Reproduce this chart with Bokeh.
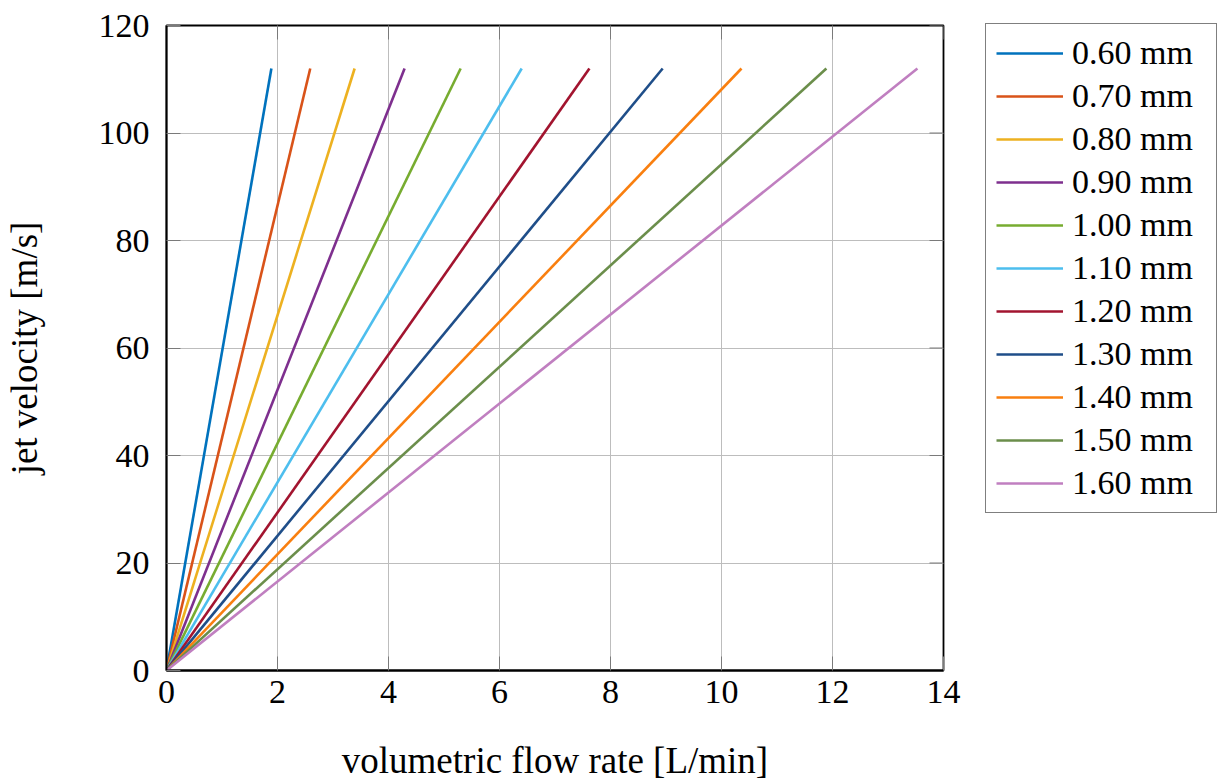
import math
from bokeh.plotting import figure
from bokeh.models import Range1d, Legend, LegendItem, FixedTicker
from bokeh.embed import file_html
from bokeh.resources import INLINE

# data
diameters = ["0.60 mm", "0.70 mm", "0.80 mm", "0.90 mm", "1.00 mm", "1.10 mm",
             "1.20 mm", "1.30 mm", "1.40 mm", "1.50 mm", "1.60 mm"]
flow_start = [0, 0, 0, 0, 0, 0, 0, 0, 0, 0, 0]
flow_end = [1.89, 2.59, 3.39, 4.29, 5.30, 6.40, 7.62, 8.94, 10.36, 11.89, 13.53]
vel_start = [0, 0, 0, 0, 0, 0, 0, 0, 0, 0, 0]
vel_end = [112, 112, 112, 112, 112, 112, 112, 112, 112, 112, 112]
colors = ["#0072BD", "#D95319", "#EDB120", "#7E2F8E", "#77AC30", "#4DBEEE",
          "#A2142F", "#1F4E89", "#F97F0F", "#6B8E4B", "#C07FC0"]
x_ticks = [0, 2, 4, 6, 8, 10, 12, 14]
y_ticks = [0, 20, 40, 60, 80, 100, 120]
x_lim = [0, 14]
y_lim = [0, 120]

FONT = "Liberation Serif"
TICK_FS = "34px"
LABEL_FS = "37px"
TICK_COLOR = "#7a7a7a"
TICK_LEN = 14

p = figure(frame_width=777, frame_height=645, output_backend="svg",
           toolbar_location=None, x_range=Range1d(*x_lim), y_range=Range1d(*y_lim),
           min_border_left=166, min_border_top=25, min_border_right=10,
           min_border_bottom=110)
p.background_fill_color = "white"
p.border_fill_color = "white"
p.outline_line_color = "black"
p.outline_line_width = 1.8
p.outline_line_alpha = 1.0

p.grid.grid_line_color = "#bdbdbd"
p.grid.grid_line_width = 1

# mirrored inward ticks on the top and right edges (no labels)
p.ray(x=[x_lim[1]] * len(y_ticks), y=y_ticks, length=TICK_LEN, length_units="screen",
      angle=math.pi, line_color=TICK_COLOR, line_width=1)
p.ray(x=x_ticks, y=[y_lim[1]] * len(x_ticks), length=TICK_LEN, length_units="screen",
      angle=-math.pi / 2, line_color=TICK_COLOR, line_width=1)

items = []
for i, name in enumerate(diameters):
    r = p.line([flow_start[i], flow_end[i]], [vel_start[i], vel_end[i]],
               line_color=colors[i], line_width=2.6)
    items.append(LegendItem(label=name, renderers=[r]))

for ax in (p.xaxis[0], p.yaxis[0]):
    ax.axis_line_color = "black"
    ax.axis_line_width = 1.8
    ax.major_tick_in = TICK_LEN
    ax.major_tick_out = 0
    ax.major_tick_line_color = TICK_COLOR
    ax.minor_tick_line_color = None
    ax.major_label_text_font = FONT
    ax.major_label_text_font_size = TICK_FS
    ax.major_label_text_color = "black"
    ax.axis_label_text_font = FONT
    ax.axis_label_text_font_size = LABEL_FS
    ax.axis_label_text_font_style = "normal"
    ax.axis_label_text_color = "black"

p.xaxis.ticker = FixedTicker(ticks=x_ticks)
p.yaxis.ticker = FixedTicker(ticks=y_ticks)
p.xaxis.axis_label = "volumetric flow rate [L/min]"
p.yaxis.axis_label = "jet velocity [m/s]"
p.xaxis.major_label_standoff = 10
p.xaxis.axis_label_standoff = 34
p.yaxis.major_label_standoff = 17
p.yaxis.axis_label_standoff = 51

legend = Legend(items=items, location=(42, 157))
legend.label_text_font = FONT
legend.label_text_font_size = TICK_FS
legend.label_text_color = "black"
legend.glyph_width = 67
legend.glyph_height = 24
legend.label_height = 24
legend.label_width = 134
legend.label_standoff = 9
legend.spacing = 5
legend.padding = 10
legend.margin = 0
legend.border_line_color = "black"
legend.border_line_width = 1.5
legend.background_fill_alpha = 1.0
p.add_layout(legend, "right")

open("out.html", "w").write(file_html(p, INLINE))
